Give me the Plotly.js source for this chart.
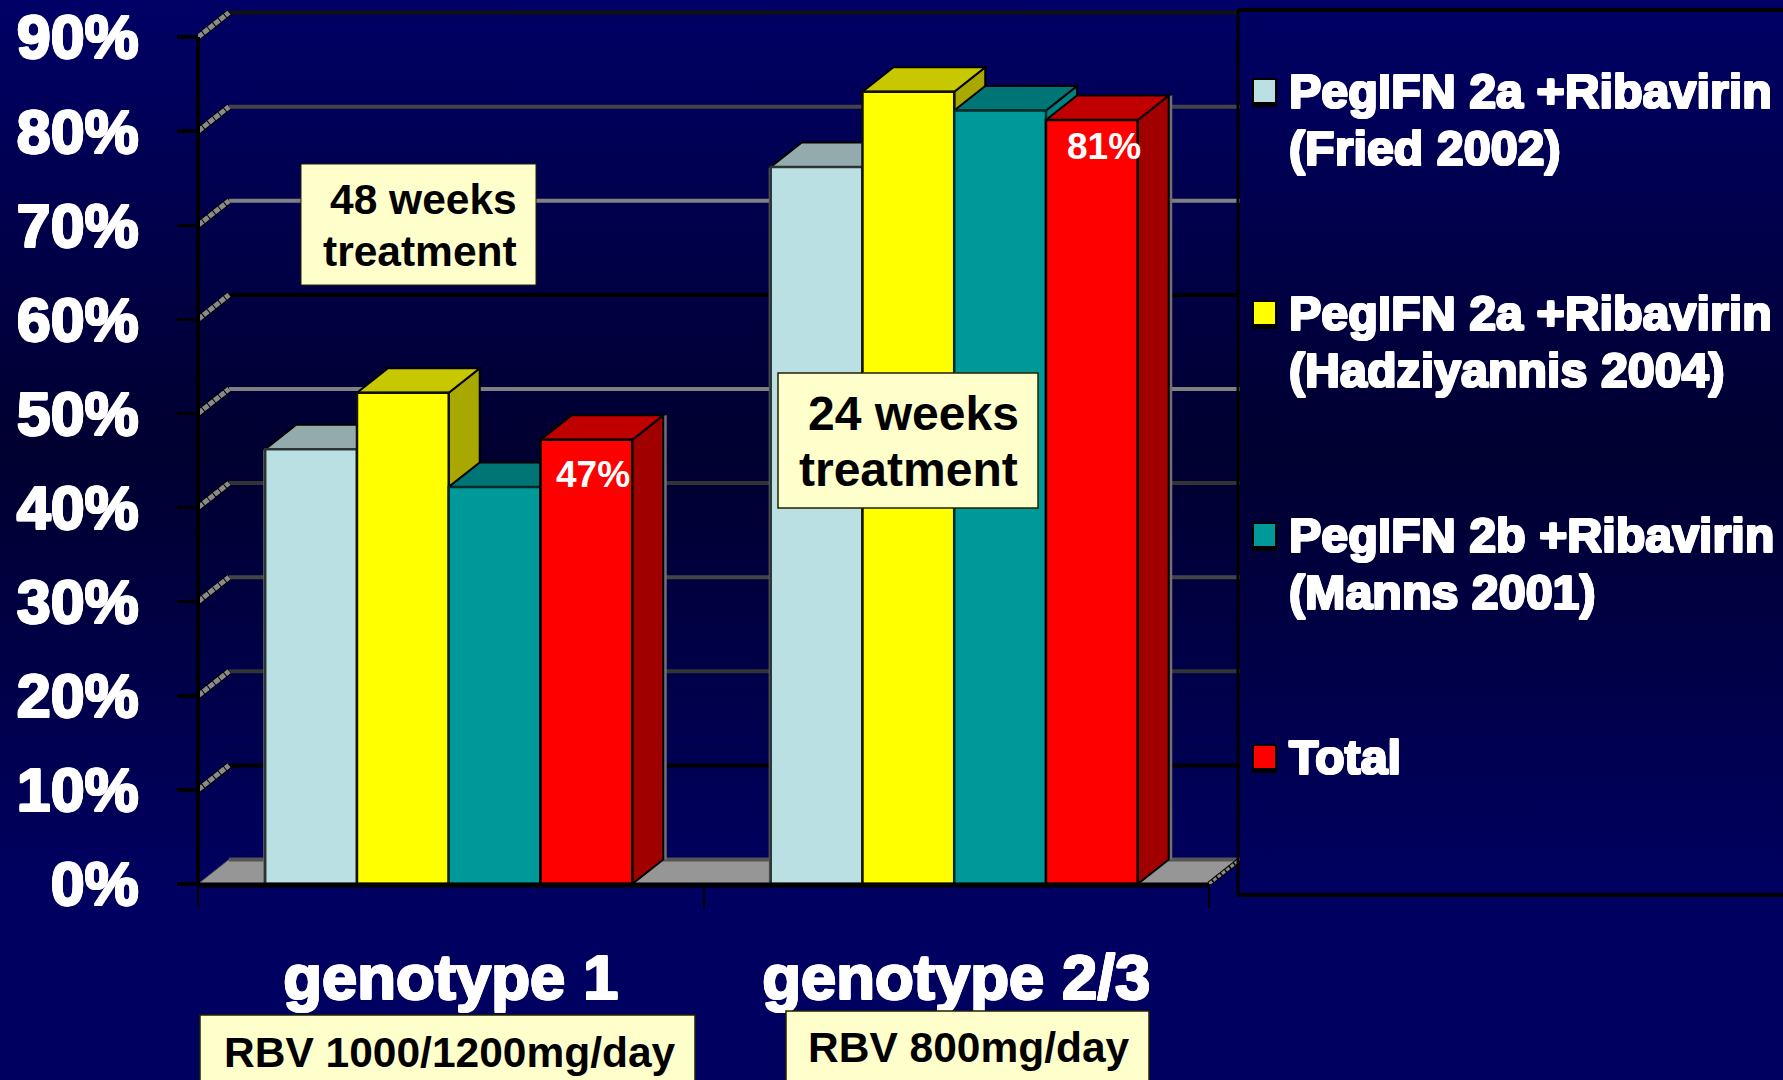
<!DOCTYPE html>
<html>
<head>
<meta charset="utf-8">
<script src="https://cdn.plot.ly/plotly-3.0.1.min.js"></script>
<style>
html,body{margin:0;padding:0;width:1783px;height:1080px;overflow:hidden;
background:linear-gradient(to bottom,#000066 0%,#000030 42%,#000060 82%,#000060 100%);}
#chart{width:1783px;height:1080px;}
</style>
</head>
<body>
<div id="chart"></div>
<script>
// ---- data ----
var categories = ['genotype 1', 'genotype 2/3'];
var fried = [46.2, 76.2];
var hadziyannis = [52.2, 84.2];
var manns = [42.2, 82.2];
var total = [47.2, 81.2];
var seriesNames = ['PegIFN 2a +Ribavirin (Fried 2002)', 'PegIFN 2a +Ribavirin (Hadziyannis 2004)', 'PegIFN 2b +Ribavirin (Manns 2001)', 'Total'];
var legendLine1 = ['PegIFN 2a +Ribavirin', 'PegIFN 2a +Ribavirin', 'PegIFN 2b +Ribavirin', 'Total'];
var legendLine2 = ['(Fried 2002)', '(Hadziyannis 2004)', '(Manns 2001)', ''];
var tickValues = [0, 10, 20, 30, 40, 50, 60, 70, 80, 90];
var tickLabels = ['0%', '10%', '20%', '30%', '40%', '50%', '60%', '70%', '80%', '90%'];
var totalLabels = ['47%', '81%'];

// ---- styles ----
var frontColors = ['#BBE0E3', '#FFFF00', '#009999', '#FF0000'];
var topColors = ['#94ABAD', '#C8C800', '#007575', '#C00000'];
var sideColors = ['#8FA8AA', '#A8A800', '#008080', '#A00000'];
var barEdge = ['#2a3636', '#111100', '#002a2a', '#000000'];
var gridColors = ['#555555', '#000000', '#333333', '#444444', '#333333', '#808080', '#000000', '#808080', '#444444', '#111111'];
var FONT = '"Liberation Sans", Arial, sans-serif';
var HALO = '1px 0 0 #fff,-1px 0 0 #fff,0 1px 0 #fff,0 -1px 0 #fff,1px 1px 0 #fff,-1px -1px 0 #fff,1px -1px 0 #fff,-1px 1px 0 #fff';

var W = 1783, H = 1080;
var LEFT = 198, BOTTOM = 884, RIGHT = 1240, TOP = 10;
var UNIT = 505.5;               // px per category
var YPX = 9.41;                 // px per percentage point
var DX = 31 / UNIT, DY = 24.5 / YPX; // 3-D depth in axis units
var BARGAP = 0.274, BW = (1 - BARGAP) / 4, BAR_START = -(1 - BARGAP) / 2 - 0.004;
var XMAX = -0.5 + (RIGHT - LEFT) / UNIT, YMAX = (BOTTOM - TOP) / YPX;
function px(x) { return x / W; }
function py(y) { return 1 - y / H; }

var allSeries = [fried, hadziyannis, manns, total];
var shapes = [], annotations = [];

function poly(points, fill, line, lw, layer) {
  var d = points.map(function (p, i) { return (i ? 'L' : 'M') + p[0] + ',' + p[1]; }).join(' ') + ' Z';
  shapes.push({ type: 'path', xref: 'x', yref: 'y', path: d, fillcolor: fill, layer: layer || 'below',
    line: { color: line, width: lw === undefined ? 2 : lw } });
}
function seg(x0, y0, x1, y1, color, w, dash, xr, yr, layer) {
  shapes.push({ type: 'line', xref: xr || 'x', yref: yr || 'y', x0: x0, y0: y0, x1: x1, y1: y1, layer: layer || 'below',
    line: { color: color, width: w, dash: dash || 'solid' } });
}
function box(x0, y0, x1, y1, fill, line, lw) {
  shapes.push({ type: 'rect', xref: 'paper', yref: 'paper', x0: px(x0), x1: px(x1), y0: py(y1), y1: py(y0), layer: 'above',
    fillcolor: fill, line: { color: line, width: lw } });
}
function label(text, x, y, size, color, halo, anchor) {
  annotations.push({ text: text, xref: 'paper', yref: 'paper', x: px(x), y: py(y), xanchor: anchor || 'center', yanchor: 'middle',
    showarrow: false, borderpad: 0, font: { family: FONT, size: size, color: color, weight: 700, shadow: halo ? HALO : 'none' } });
}

// floor
poly([[-0.5, 0], [-0.5 + DX, DY], [1.5 + DX, DY], [1.5, 0]], '#969696', '#555555', 1);

// back-wall gridlines + side-wall hatching
tickValues.forEach(function (v, i) {
  seg(-0.5 + DX, v + DY, 1.5 + DX, v + DY, gridColors[i], 4);
  if (v > 0) {
    seg(-0.5, v, -0.5 + DX, v + DY, '#000000', 7);
    seg(-0.5, v, -0.5 + DX, v + DY, '#8a8a8a', 5, '6px,1px');
  }
});
seg(1.5, 0, 1.5 + DX, DY, '#000000', 5);
seg(1.5, 0, 1.5 + DX, DY, '#8a8a8a', 3, '4px,1.5px');

// 3-D faces behind the bar fronts, built from the same values as the bars
allSeries.forEach(function (vals, k) {
  vals.forEach(function (v, c) {
    var x0 = c + BAR_START + k * BW, x1 = x0 + BW;
    if (k === 0) seg(x0 - 0.002, 0, x0 - 0.002, v, '#6a6a6a', 2);
    if (k === 3) seg(x1 + DX + 0.004, DY, x1 + DX + 0.004, v + DY, '#707070', 3);
    poly([[x1, 0], [x1 + DX, DY], [x1 + DX, v + DY], [x1, v]], sideColors[k], '#000000', 2);
    poly([[x0, v], [x0 + DX, v + DY], [x1 + DX, v + DY], [x1, v]], topColors[k], '#000000', 2);
  });
});

// axis lines, drawn so that they stop where the reference stops
seg(px(LEFT), py(BOTTOM), px(LEFT), py(37), '#000000', 4, 'solid', 'paper', 'paper', 'above');
seg(px(LEFT), py(BOTTOM + 1), px(1209), py(BOTTOM + 1), '#000000', 5, 'solid', 'paper', 'paper', 'above');

// legend frame
seg(px(1238), py(TOP), px(W), py(TOP), '#000000', 4, 'solid', 'paper', 'paper', 'above');
seg(px(1238), py(TOP), px(1238), py(895), '#000000', 3, 'solid', 'paper', 'paper', 'above');
seg(px(1238), py(895), px(W), py(895), '#000000', 4, 'solid', 'paper', 'paper', 'above');

// legend entries
legendLine1.forEach(function (t, i) {
  var dy = 222 * i;
  box(1252, 78 + dy, 1277, 107 + dy, '#000000', '#000000', 0);
  box(1254, 80 + dy, 1275, 102 + dy, frontColors[i], '#000000', 0);
  label(t, 1288, 91 + dy, 48.4, '#ffffff', true, 'left');
  if (legendLine2[i]) label(legendLine2[i], 1288, 148 + dy, 48.4, '#ffffff', true, 'left');
});

// treatment boxes
box(301, 164, 536, 285, '#FFFFCC', '#222200', 1);
label('48 weeks', 423, 200, 42.5, '#000000');
label('treatment', 420, 251, 42.5, '#000000');
box(778, 373, 1038, 508, '#FFFFCC', '#222200', 1.5);
label('24 weeks', 913, 413, 48, '#000000');
label('treatment', 909, 470, 48, '#000000');
box(200, 1015, 695, 1090, '#FFFFCC', '#222200', 1.5);
label('RBV 1000/1200mg/day', 450, 1052, 42.5, '#000000');
box(786, 1011, 1149, 1090, '#FFFFCC', '#222200', 1.5);
label('RBV 800mg/day', 969, 1047, 42.5, '#000000');

// value labels on the Total bars
total.forEach(function (v, c) {
  annotations.push({ text: totalLabels[c], xref: 'x', yref: 'y', x: c + BAR_START + 3.5 * BW, y: v, yshift: c ? -27 : -35,
    xshift: c ? 12 : 7, showarrow: false, yanchor: 'middle', xanchor: 'center',
    font: { family: FONT, size: 37, color: '#ffffff', weight: 700 } });
});

var traces = allSeries.map(function (vals, k) {
  return { type: 'bar', name: seriesNames[k], x: categories, y: vals, hoverinfo: 'skip',
    width: BW, offset: BAR_START + k * BW,
    marker: { color: frontColors[k], line: { color: barEdge[k], width: 2.5 } } };
});

var layout = {
  width: W, height: H, autosize: false,
  paper_bgcolor: 'rgba(0,0,0,0)', plot_bgcolor: 'rgba(0,0,0,0)',
  margin: { l: 0, r: 0, t: 0, b: 0, pad: 0 },
  barmode: 'overlay', showlegend: false,
  font: { family: FONT, color: '#ffffff' },
  xaxis: { type: 'category', categoryorder: 'array', categoryarray: categories, range: [-0.5, XMAX],
    domain: [px(LEFT), px(RIGHT)], tickson: 'boundaries', ticks: 'outside', ticklen: 23, tickwidth: 2, tickcolor: '#000000',
    showline: false, showgrid: false, zeroline: false, ticklabelstandoff: 50,
    tickfont: { family: FONT, size: 63.5, color: '#ffffff', weight: 700, shadow: HALO } },
  yaxis: { range: [0, YMAX], domain: [py(BOTTOM), py(TOP)], tickmode: 'array', tickvals: tickValues, ticktext: tickLabels,
    ticks: 'outside', ticklen: 20, tickwidth: 3.5, tickcolor: '#000000',
    showline: false, showgrid: false, zeroline: false, ticklabelstandoff: 26,
    tickfont: { family: FONT, size: 61, color: '#ffffff', weight: 700, shadow: HALO } },
  shapes: shapes, annotations: annotations
};
Plotly.newPlot('chart', traces, layout, { displayModeBar: false, staticPlot: true });
</script>
</body>
</html>
